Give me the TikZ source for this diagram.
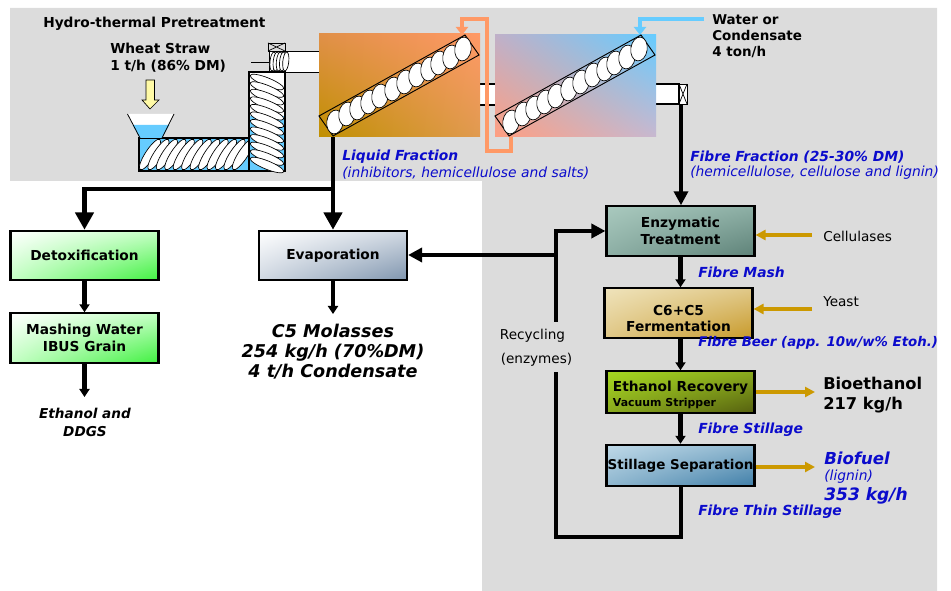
\documentclass[tikz,border=0pt]{standalone}
\usepackage{fontspec}
\setmainfont{DejaVu Sans}
\usetikzlibrary{arrows.meta,shadings}
\definecolor{bgg}{HTML}{DCDCDC}
\definecolor{lbl}{HTML}{0B0BCC}
\definecolor{gold}{HTML}{CC9900}
\definecolor{orng}{HTML}{FF9966}
\definecolor{skyb}{HTML}{66CCFF}
\definecolor{grnm}{HTML}{C4FFC4}
\definecolor{grne}{HTML}{40F040}
\definecolor{evm}{HTML}{D0D8E2}
\definecolor{eve}{HTML}{7F95AE}
\definecolor{ena}{HTML}{A9C9BE}
\definecolor{enm}{HTML}{8DAFA5}
\definecolor{ene}{HTML}{5E8278}
\definecolor{fea}{HTML}{EFE3BB}
\definecolor{fem}{HTML}{E0C888}
\definecolor{fee}{HTML}{C89A2A}
\definecolor{rea}{HTML}{A6D820}
\definecolor{rem}{HTML}{8AAA1E}
\definecolor{ree}{HTML}{55600F}
\definecolor{sea}{HTML}{BFD9E8}
\definecolor{sem}{HTML}{8FB7CF}
\definecolor{see}{HTML}{3F7EA8}
\definecolor{raa}{HTML}{E09048}
\definecolor{rab}{HTML}{E09A50}
\definecolor{rac}{HTML}{C09000}
\definecolor{rba}{HTML}{C0B0C8}
\definecolor{rbb}{HTML}{C8B8D0}
\definecolor{rbc}{HTML}{FF9E80}
\tikzset{
  x=.75pt,y=.75pt,
  box/.style={draw=black,line width=1.6pt,minimum width=111pt,minimum height=37pt,inner sep=0pt,align=center,font=\bfseries\fontsize{10.3}{12.3}\selectfont},
  blackline/.style={line width=3pt,black},
  smallarrow/.style={line width=3.2pt,black,-{Triangle[length=6pt,width=7.5pt]}},
  midarrow/.style={line width=3pt,black,-{Triangle[length=10.5pt,width=10.5pt]}},
  bigarrow/.style={line width=3.4pt,black,-{Triangle[length=13pt,width=13.5pt]}},
  goldarrow/.style={line width=2.5pt,gold,-{Triangle[length=7.5pt,width=7.5pt]}},
  lab/.style={anchor=west,inner sep=0pt,text=lbl,font=\bfseries\itshape\fontsize{10.4}{12}\selectfont},
  labthin/.style={anchor=west,inner sep=0pt,text=lbl,font=\itshape\fontsize{10.4}{12}\selectfont},
  txt/.style={anchor=west,inner sep=0pt,font=\bfseries\fontsize{10.3}{12}\selectfont},
  plain/.style={inner sep=0pt,font=\fontsize{10.2}{12}\selectfont},
  egg/.style={draw=black,fill=white,line width=.5pt}
}
\begin{document}
\begin{tikzpicture}
\useasboundingbox (0,-591) rectangle (951,0);
% background
\fill[bgg] (10,-8) -- (937,-8) -- (937,-591) -- (482,-591) -- (482,-181) -- (10,-181) -- cycle;

% feed tubes
\draw[fill=white,line width=.7pt] (269,-51) rectangle (325,-72);
\draw[fill=white,line width=.9pt] (475,-84) rectangle (500,-105);
\draw[fill=white,line width=.9pt] (650,-84) rectangle (679,-104);
\draw[fill=white,line width=.7pt] (679,-84) rectangle (687,-104);
\draw[line width=.5pt] (679,-84) -- (687,-104) (687,-84) -- (679,-104);

% reactors
\shade[upper left=raa,upper right=orng,lower left=rac,lower right=rab] (319,-34) rectangle (480,-137);
\shade[upper left=rba,upper right=skyb,lower left=rbc,lower right=rbb] (495,-35) rectangle (656,-137);

% recycle lines
\coordinate (ro) at (511,-137);
\coordinate (rt) at (462,-35);
\draw[orng,line width=2.4pt,-{Triangle[length=6pt,width=9pt]}] (ro) -- (511,-151) -- (487,-151) -- (487,-19) -- (462,-19) -- (rt);
\coordinate (ws) at (704,-19);
\coordinate (wt) at (640,-35);
\draw[skyb,line width=2.4pt,-{Triangle[length=6pt,width=9pt]}] (ws) -- (640,-19) -- (wt);

% inclined screws
\foreach \dx in {0,176}{
  \begin{scope}[xshift=\dx*.75pt]
  \draw[line width=.7pt] (319,-116) -- (465,-35) -- (479,-55) -- (333,-136) -- cycle;
  \foreach \cx/\cy in {335/-122,347/-114,358/-108,369/-102,380/-96,393/-89,405/-82,417/-75,429/-69,439/-63,451/-57,463/-49}{
    \draw[egg,shift={(\cx,\cy)},rotate=-8] (0,0) ellipse [x radius=8.2,y radius=12];
  }
  \end{scope}
}

% horizontal conveyor and hopper
\draw[fill=skyb,line width=.8pt] (139,-138) rectangle (249,-171);
\foreach \i in {0,...,11}{
  \draw[egg,shift={({150+\i*8.45},-154.5)},rotate=-33] (0,0) ellipse [x radius=4.8,y radius=18];
}
\fill[white] (127.5,-114) -- (174,-114) -- (169.5,-125) -- (132.5,-125) -- cycle;
\fill[skyb] (132.5,-125) -- (169.5,-125) -- (162,-138) -- (140,-138) -- cycle;
\draw[line width=.6pt] (127.5,-114) -- (140,-138) (174,-114) -- (162,-138);
\draw[fill=yellow!35,draw=black,line width=.5pt] (146,-80) -- (154.5,-80) -- (154.5,-100) -- (159,-100) -- (150,-109) -- (142,-100) -- (146,-100) -- cycle;

% vertical conveyor
\fill[skyb] (249,-115) rectangle (285,-172);
\fill[white] (250,-72) rectangle (285,-116);
\draw[line width=.8pt] (249,-72) rectangle (285,-171);
\foreach \i in {0,...,11}{
  \draw[egg,shift={(267,{-82-\i*7.55})},rotate=-22] (0,0) ellipse [x radius=18,y radius=4.2];
}
\draw[line width=.7pt] (251,-62) -- (269,-62);
\foreach \i in {0,...,4}{
  \draw[egg,shift={({273+\i*3.2},-61.5)},rotate=-6] (0,0) ellipse [x radius=3,y radius=9.5];
}
\draw[fill=bgg,line width=.6pt] (268,-43) rectangle (285,-51);
\draw[line width=.5pt] (268,-43) -- (285,-51) (285,-43) -- (268,-51);

% anchor points of the process line
\coordinate (liq) at (333,-137);
\coordinate (fib) at (681,-105);
\coordinate (jl) at (333,-189);

% boxes
\node[box,upper left=white,upper right=grnm,lower left=grnm,lower right=grne] (detox) at (84.5,-255.5) {Detoxification};
\node[box,upper left=white,upper right=grnm,lower left=grnm,lower right=grne] (mash) at (84.5,-338) {Mashing Water\\IBUS Grain};
\node[box,upper left=white,upper right=evm,lower left=evm,lower right=eve] (evap) at (333,-255.5) {Evaporation};
\node[box,upper left=ena,upper right=enm,lower left=enm,lower right=ene] (enz) at (680.5,-231) {Enzymatic\\Treatment};
\node[box,upper left=fea,upper right=fem,lower left=fem,lower right=fee] (ferm) at (678.5,-313) {\rule{0pt}{15.6pt}C6+C5\\Fermentation};
\node[box,minimum height=31pt,align=left,upper left=rea,upper right=rem,lower left=rem,lower right=ree,font=\bfseries\fontsize{10.3}{11}\selectfont] (rec) at (680.5,-392) {\rule{0pt}{12pt}Ethanol Recovery\\{\fontsize{8.2}{9}\selectfont Vacuum Stripper}};
\node[box,minimum height=31pt,upper left=sea,upper right=sem,lower left=sem,lower right=see,font=\bfseries\fontsize{10.1}{12}\selectfont] (sep) at (680.5,-465.5) {Stillage Separation};

% connectors
\draw[bigarrow] (liq) -- (jl) -- (evap.north);
\draw[bigarrow] (jl) -- (detox.north |- jl) -- (detox.north);
\draw[smallarrow] (detox.south) -- (mash.north);
\coordinate (mashend) at (84.5,-397);
\draw[smallarrow] (mash.south) -- (mashend);
\coordinate (evend) at (333,-314);
\draw[smallarrow] (evap.south) -- (evend);
\draw[midarrow] (fib) -- (fib |- enz.north);
\draw[smallarrow] (enz.south) -- (enz.south |- ferm.north);
\draw[smallarrow] (enz.south |- ferm.south) -- (enz.south |- rec.north);
\draw[smallarrow] (rec.south) -- (sep.north);
\coordinate (rb) at (680.5,-537);
\coordinate (rl) at (556,-537);
\coordinate (rgapb) at (556,-372);
\coordinate (rgapt) at (556,-322);
\draw[blackline] (sep.south) -- (rb) -- (rl) -- (rgapb);
\draw[midarrow] (rgapt) -- (556,-231) -- (enz.west);
\coordinate (ej) at (556,-255);
\draw[midarrow] (ej) -- (evap.east |- ej);

% side inputs and products
\coordinate (cel) at (812,-235);
\coordinate (yst) at (812,-309);
\coordinate (eto) at (815,-392);
\coordinate (bio) at (815,-467);
\draw[goldarrow] (cel) -- (enz.east |- cel);
\draw[goldarrow] (yst) -- (ferm.east |- yst);
\draw[goldarrow] (rec.east |- eto) -- (eto);
\draw[goldarrow] (sep.east |- bio) -- (bio);

% texts
\node[txt] (t1) at (43,-24) {Hydro-thermal Pretreatment};
\node[txt,align=left,font=\bfseries\fontsize{10.3}{12.7}\selectfont] (t2) at (110,-58) {Wheat Straw\\1 t/h (86\% DM)};
\node[txt,align=left,font=\bfseries\fontsize{10.1}{12}\selectfont] (t3) at (712,-36) {Water or\\Condensate\\4 ton/h};
\node[lab] (l1) at (342,-157) {Liquid Fraction};
\node[labthin] (l2) at (342,-173) {(inhibitors, hemicellulose and salts)};
\node[lab] (l3) at (690,-157) {Fibre Fraction (25-30\% DM)};
\node[labthin] (l4) at (690,-173) {(hemicellulose, cellulose and lignin)};
\node[lab] (l5) at (698,-272) {Fibre Mash};
\node[lab,font=\bfseries\itshape\fontsize{10}{12}\selectfont] (l6) at (698,-343) {Fibre Beer (app. 10w/w\% Etoh.)};
\node[lab] (l7) at (698,-430) {Fibre Stillage};
\node[lab] (l8) at (698,-512) {Fibre Thin Stillage};
\node[inner sep=0pt,align=center,font=\bfseries\itshape\fontsize{13.2}{15}\selectfont] (t4) at (333,-352) {C5 Molasses\\254 kg/h (70\%DM)\\4 t/h Condensate};
\node[inner sep=0pt,align=center,font=\bfseries\itshape\fontsize{10.2}{13.5}\selectfont] (t5) at (85,-422) {Ethanol and\\DDGS};
\node[plain,anchor=west] (t6) at (823,-236) {Cellulases};
\node[plain,anchor=west] (t7) at (823,-302) {Yeast};
\node[plain] (t8) at (532.5,-336) {Recycling};
\node[plain] (t9) at (536.5,-360) {(enzymes)};
\node[inner sep=0pt,anchor=west,align=left,font=\bfseries\fontsize{12.2}{15}\selectfont] (t10) at (823,-395) {Bioethanol\\217 kg/h};
\node[lab,font=\bfseries\itshape\fontsize{12.4}{14}\selectfont] (t11) at (824,-458) {Biofuel};
\node[labthin,font=\itshape\fontsize{10.4}{12}\selectfont] (t12) at (824,-477) {(lignin)};
\node[lab,font=\bfseries\itshape\fontsize{12.8}{15}\selectfont] (t13) at (824,-496) {353 kg/h};
\end{tikzpicture}
\end{document}
